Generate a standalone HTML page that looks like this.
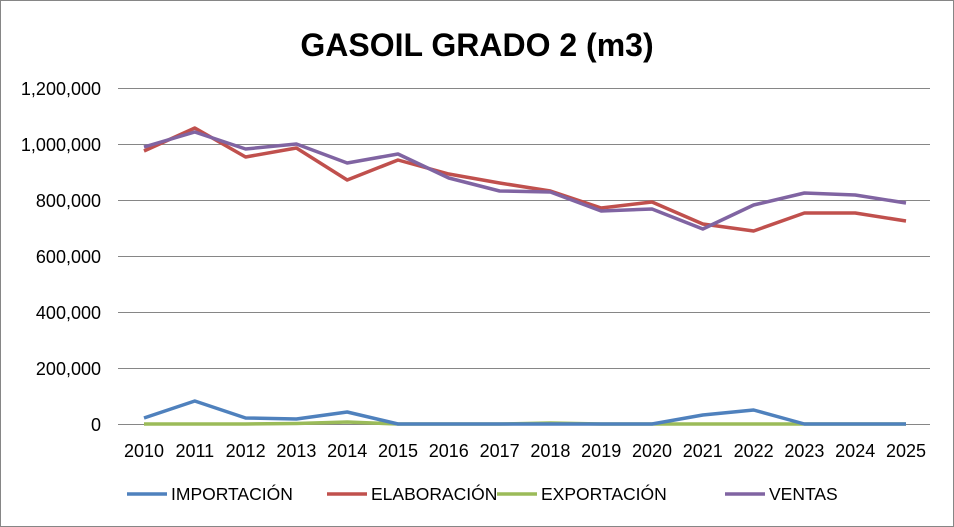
<!DOCTYPE html>
<html><head><style>
body{margin:0;background:#fff;}
svg{display:block;font-family:"Liberation Sans",sans-serif;}
</style></head><body>
<svg width="954" height="527" viewBox="0 0 954 527">
<rect x="0.5" y="0.5" width="953" height="526" fill="#fff" stroke="#868686"/>
<text x="477" y="56" text-anchor="middle" font-size="32" font-weight="bold">GASOIL GRADO 2 (m3)</text>
<g stroke="#868686" stroke-width="1">
<line x1="118" y1="88.5" x2="930" y2="88.5"/>
<line x1="118" y1="144.5" x2="930" y2="144.5"/>
<line x1="118" y1="200.5" x2="930" y2="200.5"/>
<line x1="118" y1="256.5" x2="930" y2="256.5"/>
<line x1="118" y1="312.5" x2="930" y2="312.5"/>
<line x1="118" y1="368.5" x2="930" y2="368.5"/>
<line x1="118" y1="424.5" x2="930" y2="424.5"/>
</g>
<g font-size="18" text-anchor="end">
<text x="101" y="95">1,200,000</text>
<text x="101" y="151">1,000,000</text>
<text x="101" y="207">800,000</text>
<text x="101" y="263">600,000</text>
<text x="101" y="319">400,000</text>
<text x="101" y="375">200,000</text>
<text x="101" y="431">0</text>
</g>
<g font-size="18" text-anchor="middle">
<text x="144" y="457">2010</text><text x="194.8" y="457">2011</text><text x="245.6" y="457">2012</text><text x="296.4" y="457">2013</text><text x="347.2" y="457">2014</text><text x="398" y="457">2015</text><text x="448.8" y="457">2016</text><text x="499.6" y="457">2017</text><text x="550.4" y="457">2018</text><text x="601.2" y="457">2019</text><text x="652" y="457">2020</text><text x="702.8" y="457">2021</text><text x="753.6" y="457">2022</text><text x="804.4" y="457">2023</text><text x="855.2" y="457">2024</text><text x="906" y="457">2025</text>
</g>
<g fill="none" stroke-width="3.5" stroke-linejoin="round">
<polyline stroke="#9bbb59" points="144,424 194.8,424 245.6,424 296.4,423.5 347.2,422 398,424 448.8,424 499.6,424 550.4,423 601.2,424 652,424 702.8,424 753.6,424 804.4,424 855.2,424 906,424"/>
<polyline stroke="#4f81bd" points="144,418 194.8,401 245.6,418 296.4,419 347.2,412 398,424 448.8,424 499.6,424 550.4,424 601.2,424 652,424 702.8,415 753.6,410 804.4,424 855.2,424 906,424"/>
<polyline stroke="#c0504d" points="144,151 194.8,128 245.6,157 296.4,148 347.2,180 398,160 448.8,174 499.6,183 550.4,191 601.2,208 652,202 702.8,224 753.6,231 804.4,213 855.2,213 906,221"/>
<polyline stroke="#8064a2" points="144,147 194.8,132 245.6,149 296.4,144 347.2,163 398,154 448.8,178 499.6,191 550.4,192 601.2,211 652,209 702.8,229 753.6,205 804.4,193 855.2,195 906,203"/>
</g>
<g font-size="17.5">
<line x1="127" y1="494" x2="167" y2="494" stroke="#4f81bd" stroke-width="3.5"/><text x="171" y="500">IMPORTACIÓN</text>
<line x1="327" y1="494" x2="367" y2="494" stroke="#c0504d" stroke-width="3.5"/><text x="371" y="500">ELABORACIÓN</text>
<line x1="497" y1="494" x2="537" y2="494" stroke="#9bbb59" stroke-width="3.5"/><text x="541" y="500">EXPORTACIÓN</text>
<line x1="725" y1="494" x2="765" y2="494" stroke="#8064a2" stroke-width="3.5"/><text x="769" y="500">VENTAS</text>
</g>
</svg>
</body></html>
